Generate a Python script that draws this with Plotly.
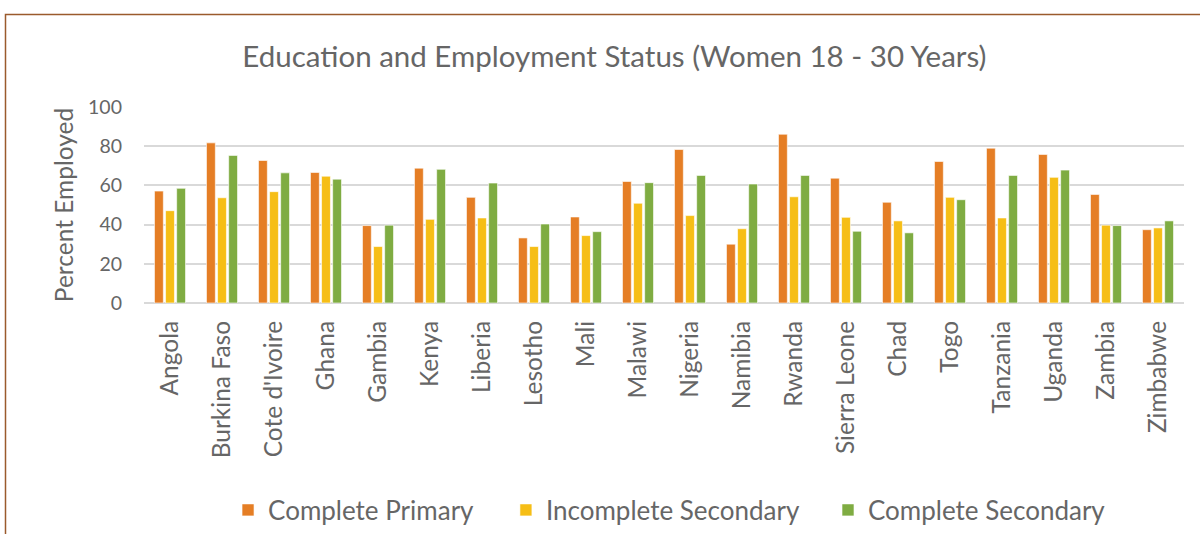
import plotly.graph_objects as go

countries = ["Angola", "Burkina Faso", "Cote d'Ivoire", "Ghana", "Gambia", "Kenya",
             "Liberia", "Lesotho", "Mali", "Malawi", "Nigeria", "Namibia", "Rwanda",
             "Sierra Leone", "Chad", "Togo", "Tanzania", "Uganda", "Zambia", "Zimbabwe"]
complete_primary = [57.1, 81.7, 72.7, 66.6, 39.5, 68.8, 53.9, 33.2, 43.9, 62.0,
                    78.3, 30.0, 86.1, 63.7, 51.4, 72.2, 79.0, 75.8, 55.4, 37.4]
incomplete_secondary = [47.1, 53.7, 56.8, 64.7, 28.8, 42.7, 43.4, 28.8, 34.4, 50.9,
                        44.6, 37.9, 54.2, 43.7, 41.9, 53.9, 43.4, 64.1, 39.7, 38.3]
complete_secondary = [58.5, 75.3, 66.4, 63.2, 39.7, 68.2, 61.2, 40.3, 36.4, 61.4,
                      65.1, 60.7, 65.1, 36.6, 35.8, 52.7, 65.1, 67.8, 39.5, 41.9]
series_names = ["Complete Primary", "Incomplete Secondary", "Complete Secondary"]
y_ticks = [0, 20, 40, 60, 80, 100]

FONT = "Lato"
GREY = "#666666"
COLORS = ["#E57E25", "#F6BE16", "#7FAC42"]
LEGENDS = ["legend", "legend2", "legend3"]
LEGEND_X = [0.0808, 0.348, 0.6577]

fig = go.Figure()
for name, vals, col, lg in zip(series_names,
                               [complete_primary, incomplete_secondary, complete_secondary],
                               COLORS, LEGENDS):
    fig.add_trace(go.Bar(x=countries, y=vals, name=name, legend=lg,
                         marker=dict(color=col, line=dict(color="rgba(255,255,255,0.6)", width=1))))

legend_common = dict(orientation="h", xanchor="left", yref="container",
                     y=1 - 510 / 534, yanchor="middle",
                     font=dict(size=26, color=GREY), itemwidth=30)

fig.update_layout(
    width=1200, height=534,
    margin=dict(l=144, r=16, t=107, b=231, autoexpand=False),
    paper_bgcolor="white", plot_bgcolor="white",
    barmode="group", bargap=0.36, bargroupgap=0.2,
    font=dict(family=FONT, color=GREY),
    title=dict(text="Education and Employment Status (Women 18 - 30 Years)",
               x=0.512, xanchor="center", y=1 - 57 / 534, yanchor="middle",
               font=dict(size=29.5, color=GREY, family=FONT)),
    showlegend=True,
    legend=dict(x=LEGEND_X[0], **legend_common),
    legend2=dict(x=LEGEND_X[1], **legend_common),
    legend3=dict(x=LEGEND_X[2], **legend_common),
    shapes=[dict(type="rect", xref="paper", yref="paper",
                 x0=(5.5 - 144) / 1040, x1=1.2,
                 y0=-2.0, y1=(303.3 - 14) / 196.6,
                 line=dict(color="#9A5A2C", width=1.5), layer="below")],
)
fig.update_xaxes(tickangle=-90, tickfont=dict(size=24.5, color=GREY), showgrid=False,
                 showline=False, ticks="", automargin=False, ticklabelstandoff=12)
fig.update_yaxes(range=[0, 100], tickvals=y_ticks, tickfont=dict(size=19.5, color=GREY),
                 gridcolor="#D9D9D9", gridwidth=1.5, zeroline=True, zerolinecolor="#D9D9D9",
                 zerolinewidth=1.5, showline=False, ticks="", automargin=False,
                 ticklabelstandoff=21,
                 title=dict(text="Percent Employed", font=dict(size=24.5, color=GREY), standoff=7))

fig.write_html("out.html", config={"displayModeBar": False},
               post_script="document.body.style.margin='0px';")
